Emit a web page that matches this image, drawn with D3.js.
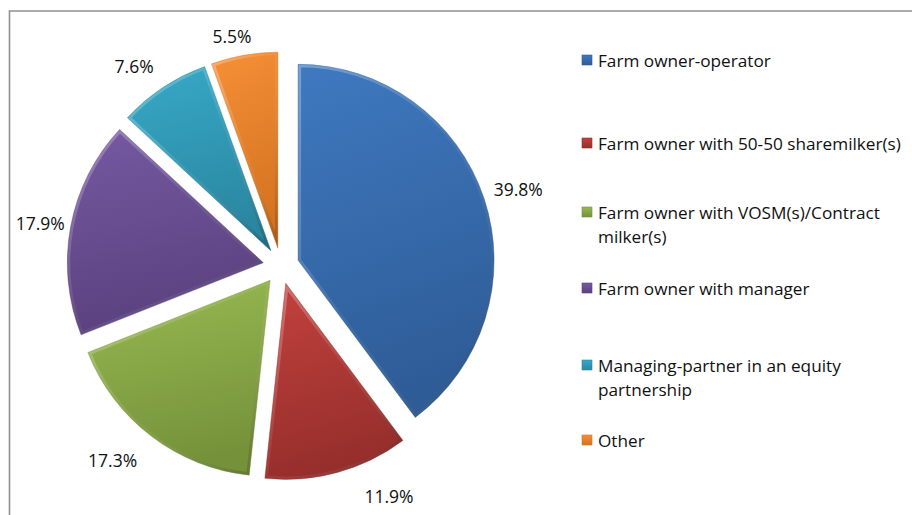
<!DOCTYPE html>
<html>
<head>
<meta charset="utf-8">
<script src="https://cdn.jsdelivr.net/npm/d3@7"></script>
<style>
  html, body { margin: 0; padding: 0; background: #fff; }
  svg { display: block; }
  text { font-family: "Open Sans", "DejaVu Sans", sans-serif; fill: #111; }
</style>
</head>
<body>
<svg id="chart" width="912" height="515"></svg>
<script>
// Share of farms by ownership / operating structure (%)
const categories = [
  "Farm owner-operator",
  "Farm owner with 50-50 sharemilker(s)",
  "Farm owner with VOSM(s)/Contract milker(s)",
  "Farm owner with manager",
  "Managing-partner in an equity partnership",
  "Other"
];
const values = [39.8, 11.9, 17.3, 17.9, 7.6, 5.5];
const legendLines = [
  ["Farm owner-operator"],
  ["Farm owner with 50-50 sharemilker(s)"],
  ["Farm owner with VOSM(s)/Contract", "milker(s)"],
  ["Farm owner with manager"],
  ["Managing-partner in an equity", "partnership"],
  ["Other"]
];
const colorsLight = ["#3f79c0", "#c2423e", "#98ba52", "#7659a2", "#37a9c7", "#f68f38"];
const colorsDark  = ["#2e5c97", "#962e2b", "#75923a", "#5a417e", "#2a86a0", "#d4731f"];

const W = 912, H = 515;
const cx = 281, cy = 266, R = 196, explode = 18, labelR = 250;
// Small label nudges to keep labels clear of neighbouring slices
const labelNudge = [[0, 2], [42, -11], [-17, -5], [5, 3], [-9, 9], [-6, 16]];

const svg = d3.select("#chart");
const defs = svg.append("defs");

// Per-slice gradients
categories.forEach((c, i) => {
  const g = defs.append("linearGradient").attr("id", "fill" + i)
    .attr("x1", 0).attr("y1", 0).attr("x2", 0.2).attr("y2", 1);
  g.append("stop").attr("offset", "0%").attr("stop-color", colorsLight[i]);
  g.append("stop").attr("offset", "100%").attr("stop-color", colorsDark[i]);
});
// Bevel rim: light on the upper-left edges, dark on the lower-right
const rim = defs.append("linearGradient").attr("id", "rim")
  .attr("x1", 0).attr("y1", 0).attr("x2", 1).attr("y2", 1);
rim.append("stop").attr("offset", "0%").attr("stop-color", "#fff").attr("stop-opacity", 0.3);
rim.append("stop").attr("offset", "50%").attr("stop-color", "#fff").attr("stop-opacity", 0.05);
rim.append("stop").attr("offset", "100%").attr("stop-color", "#000").attr("stop-opacity", 0.25);

// Chart frame
svg.append("path")
  .attr("d", `M9.5,${H + 5} V11 H${W + 5}`)
  .attr("fill", "none").attr("stroke", "#8f8f8f").attr("stroke-width", 1.6);

const pie = d3.pie().sort(null).value(d => d).startAngle(0).endAngle(2 * Math.PI);
const arcs = pie(values);
const arc = d3.arc().innerRadius(0).outerRadius(R);

const slices = svg.append("g").attr("transform", `translate(${cx},${cy})`);
arcs.forEach((a, i) => {
  const mid = (a.startAngle + a.endAngle) / 2;
  const dx = explode * Math.sin(mid), dy = -explode * Math.cos(mid);
  const g = slices.append("g").attr("transform", `translate(${dx},${dy})`);
  const d = arc(a);
  defs.append("clipPath").attr("id", "clip" + i).append("path").attr("d", d);
  g.append("path").attr("d", d).attr("fill", `url(#fill${i})`);
  g.append("path").attr("d", d)
    .attr("fill", "none")
    .attr("stroke", "url(#rim)")
    .attr("stroke-width", 6)
    .attr("stroke-linejoin", "round")
    .attr("clip-path", `url(#clip${i})`);
  g.append("path").attr("d", d)
    .attr("fill", "none")
    .attr("stroke", colorsDark[i])
    .attr("stroke-opacity", 0.5)
    .attr("stroke-width", 0.8);
});

// Value labels
const labels = svg.append("g");
arcs.forEach((a, i) => {
  const mid = (a.startAngle + a.endAngle) / 2;
  const x = cx + labelR * Math.sin(mid) + labelNudge[i][0];
  const y = cy - labelR * Math.cos(mid) + labelNudge[i][1];
  labels.append("text")
    .attr("x", x).attr("y", y)
    .attr("text-anchor", "middle")
    .attr("dominant-baseline", "central")
    .attr("font-size", 17.5)
    .text(d3.format(".1f")(values[i]) + "%");
});

// Legend
const legendY = [60, 143, 212, 288, 365, 440];
const lineH = 24.5;
const legend = svg.append("g");
categories.forEach((c, i) => {
  const y = legendY[i];
  const lg = defs.append("linearGradient").attr("id", "lfill" + i)
    .attr("x1", 0).attr("y1", 0).attr("x2", 0).attr("y2", 1);
  lg.append("stop").attr("offset", "0%").attr("stop-color", colorsLight[i]);
  lg.append("stop").attr("offset", "100%").attr("stop-color", colorsDark[i]);
  legend.append("rect")
    .attr("x", 582).attr("y", y - 5).attr("width", 10).attr("height", 10)
    .attr("fill", `url(#lfill${i})`)
    .attr("stroke", colorsDark[i]).attr("stroke-width", 0.6);
  legendLines[i].forEach((t, k) => {
    legend.append("text")
      .attr("x", 598).attr("y", y + k * lineH)
      .attr("dominant-baseline", "central")
      .attr("font-size", 17.2)
      .text(t);
  });
});
</script>
</body>
</html>
